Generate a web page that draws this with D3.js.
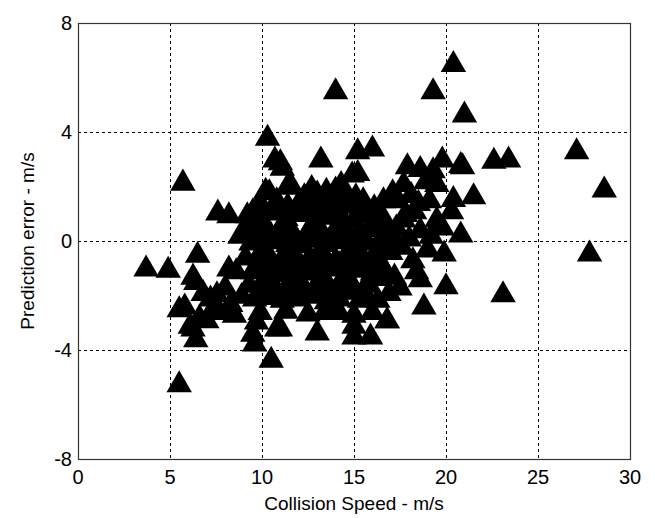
<!DOCTYPE html>
<html lang="en">
<head>
    <meta charset="UTF-8">
    <title>Prediction error vs collision speed</title>
    <script src="https://d3js.org/d3.v7.min.js"></script>
    <style>
        body { margin: 0; background: #fff; font-family: "Liberation Sans", Arial, sans-serif; }
        .grid line { stroke: #000; stroke-width: 1; stroke-dasharray: 3,3; }
        .tick-label { font-size: 20px; fill: #000; }
        .axis-label { font-size: 19px; fill: #000; }
    </style>
</head>
<body>
<div id="chart"></div>
<script>
    // Collision speed (m/s) and prediction error (m/s)
    const speed = [
        3.7, 4.9, 5.7, 5.5, 5.5, 5.8, 6.1, 6.25, 6.4, 6.25, 6.4, 6.5, 6.8, 7.2, 7.55, 7.7, 7.6, 8.2,
        7.0, 7.4, 8.0, 8.3, 8.6, 8.8, 8.5, 8.9, 8.2, 6.6,
        10.3, 10.7, 11.0, 13.2, 11.5, 14.0, 10.2, 10.8, 11.1, 12.4, 13.0, 13.5, 14.0, 9.5, 9.9, 10.4,
        11.8, 12.0, 12.8, 13.7, 14.5, 14.9, 15.2, 16.0, 15.2, 15.5, 16.2,
        9.2, 10.0, 10.6, 11.3, 12.1, 12.9, 13.6, 14.2, 15.0, 15.8, 16.6,
        9.0, 9.7, 10.3, 11.0, 11.6, 12.4, 13.1, 13.9, 14.6, 15.3, 16.1, 16.9,
        9.4, 10.1, 10.8, 11.4, 12.2, 12.8, 13.5, 14.3, 15.0, 15.7, 16.4, 17.1,
        9.1, 9.8, 10.5, 11.2, 11.9, 12.6, 13.3, 14.0, 14.8, 15.5, 16.2,
        9.5, 10.2, 10.9, 11.6, 12.3, 13.0, 13.7, 14.5, 15.2, 16.0, 16.7,
        9.3, 10.0, 10.7, 11.4, 12.1, 12.9, 13.6, 14.3, 15.0, 15.8,
        9.6, 10.4, 11.1, 12.0, 12.7, 13.5, 14.2, 15.5, 16.3,
        9.9, 11.3, 12.5, 13.4, 14.1, 15.0, 16.0,
        // second, staggered layer of the dense core
        9.9, 10.6, 11.4, 12.2, 12.9, 13.8, 14.6, 15.4, 16.1,
        9.6, 11.2, 12.8, 14.4, 16.0,
        9.8, 10.5, 11.1, 11.8, 12.5, 13.2, 14.0, 14.8, 15.6, 16.5,
        10.2, 11.7, 13.2, 14.7, 16.2,
        9.7, 10.5, 11.3, 12.0, 12.7, 13.4, 14.2, 14.9, 15.7, 16.5,
        10.1, 11.8, 13.3, 14.7, 16.2,
        10.0, 10.8, 11.6, 12.4, 13.1, 13.9, 14.7, 15.5,
        12.3, 13.0, 13.8, 14.5, 15.1, 11.5, 12.7, 14.3,
        17.4, 17.7, 17.9, 18.6, 19.3, 19.8, 20.8, 20.9, 21.5, 20.4, 19.1, 19.5, 18.6, 19.8, 17.7, 16.7,
        20.8, 19.9, 18.2, 18.4, 20.0, 18.8, 16.8, 18.6, 17.2, 17.0, 17.6, 18.0, 19.0, 18.3, 17.1, 19.5,
        20.3, 17.5, 16.9, 18.1, 18.9, 17.3, 19.2, 18.5, 17.8, 16.6,
        22.6, 23.4, 27.1, 28.6, 27.8, 23.1, 20.4, 19.3, 21.0,
        10.5, 13.0, 15.0, 15.0, 15.9, 9.7, 10.8, 15.5, 14.1, 15.3, 9.5, 9.6, 11.0, 16.8
    ];
    const error = [
        -0.9, -0.95, 2.25, -5.15, -2.4, -2.3, -3.0, -3.1, -3.5, -1.2, -1.4, -0.4, -1.8, -2.0, -1.85, -2.5, 1.15, 1.05,
        -2.8, -2.3, -1.6, -2.2, -1.0, 0.3, -2.6, -1.9, -0.9, -2.7,
        3.9, 3.1, 3.0, 3.1, 2.25, 5.6, 1.95, 1.6, 2.8, 1.7, 1.85, 1.95, 2.0, 1.2, 1.5, 1.9,
        1.2, 1.5, 1.3, 1.5, 1.8, 2.55, 3.4, 3.5, 2.6, 1.6, 1.2,
        1.05, 0.9, 1.15, 0.95, 1.1, 0.85, 1.0, 1.15, 0.9, 1.05, 0.95,
        0.45, 0.6, 0.4, 0.55, 0.5, 0.35, 0.6, 0.45, 0.5, 0.4, 0.55, 0.5,
        0.05, -0.1, 0.1, 0.0, -0.05, 0.15, 0.0, 0.1, -0.1, 0.05, -0.05, 0.1,
        -0.5, -0.45, -0.6, -0.4, -0.55, -0.5, -0.35, -0.6, -0.45, -0.5, -0.4,
        -1.0, -0.9, -1.1, -0.95, -1.05, -1.0, -0.9, -1.1, -0.95, -1.05, -1.0,
        -1.5, -1.45, -1.6, -1.5, -1.4, -1.55, -1.5, -1.45, -1.6, -1.5,
        -2.0, -1.95, -2.05, -2.0, -1.9, -2.1, -2.0, -1.95, -2.05,
        -2.5, -2.45, -2.55, -2.5, -2.4, -2.6, -2.5,
        1.35, 1.3, 1.4, 1.25, 1.45, 1.3, 1.4, 1.3, 1.35,
        0.75, 0.7, 0.8, 0.7, 0.75,
        0.25, 0.3, 0.2, 0.25, 0.3, 0.2, 0.25, 0.3, 0.2, 0.25,
        -0.25, -0.3, -0.2, -0.25, -0.3,
        -0.75, -0.7, -0.8, -0.75, -0.7, -0.8, -0.75, -0.7, -0.8, -0.75,
        -1.3, -1.25, -1.2, -1.3, -1.25,
        -1.75, -1.7, -1.8, -1.75, -1.7, -1.8, -1.75, -1.7,
        1.75, 1.8, 1.7, 1.8, 1.75, 2.1, 2.05, 2.2,
        1.6, 2.2, 2.85, 2.75, 2.7, 3.1, 2.9, 2.85, 1.75, 1.65, 1.6, 0.9, 0.5, 0.6, 0.9, 0.4,
        0.35, -0.35, -0.6, -1.0, -1.55, -2.3, -2.8, -1.3, -1.2, -0.3, -0.1, 0.2, -0.2, 1.2, 1.9, 2.2,
        1.2, -1.6, -1.8, 1.8, 2.3, 0.6, 0.3, 1.5, 1.1, 1.6,
        3.05, 3.1, 3.4, 2.0, -0.35, -1.85, 6.6, 5.6, 4.75,
        -4.25, -3.25, -3.0, -3.4, -3.4, -2.85, -3.1, -2.0, -2.5, -2.05, -3.3, -3.65, -3.1, -2.8
    ];
    const xTicks = [0, 5, 10, 15, 20, 25, 30];
    const yTicks = [-8, -4, 0, 4, 8];

    const W = 655, H = 518;
    const margin = {top: 23, right: 25, bottom: 59, left: 78};
    const width = W - margin.left - margin.right;
    const height = H - margin.top - margin.bottom;

    const svg = d3.select("#chart").append("svg")
        .attr("width", W)
        .attr("height", H);

    const g = svg.append("g")
        .attr("transform", `translate(${margin.left},${margin.top})`);

    const x = d3.scaleLinear().domain([0, 30]).range([0, width]);
    const y = d3.scaleLinear().domain([-8, 8]).range([height, 0]);

    // dotted grid
    const grid = g.append("g").attr("class", "grid");
    grid.selectAll(".gx")
        .data(xTicks.slice(1, -1))
        .enter().append("line")
        .attr("x1", d => Math.round(x(d)) + 0.5).attr("x2", d => Math.round(x(d)) + 0.5)
        .attr("y1", 0).attr("y2", height);
    grid.selectAll(".gy")
        .data(yTicks.slice(1, -1))
        .enter().append("line")
        .attr("y1", d => Math.round(y(d)) + 0.5).attr("y2", d => Math.round(y(d)) + 0.5)
        .attr("x1", 0).attr("x2", width);

    // triangles
    const tri = d3.symbol().type(d3.symbolTriangle).size(280);
    const pts = speed.map((s, i) => ({s: s, e: error[i]}));
    g.selectAll(".pt")
        .data(pts)
        .enter().append("path")
        .attr("class", "pt")
        .attr("d", tri)
        .attr("transform", d => `translate(${x(d.s)},${y(d.e) + 3.6})`)
        .attr("fill", "#000");

    // box
    g.append("rect")
        .attr("x", 0.5).attr("y", 0.5)
        .attr("width", width).attr("height", height)
        .attr("fill", "none")
        .attr("stroke", "#333")
        .attr("stroke-width", 1.2);

    // tick labels
    g.selectAll(".xt")
        .data(xTicks)
        .enter().append("text")
        .attr("class", "tick-label")
        .attr("x", d => x(d))
        .attr("y", height + 25)
        .attr("text-anchor", "middle")
        .text(d => d);

    g.selectAll(".yt")
        .data(yTicks)
        .enter().append("text")
        .attr("class", "tick-label")
        .attr("x", -6)
        .attr("y", d => y(d))
        .attr("dy", "0.36em")
        .attr("text-anchor", "end")
        .text(d => d);

    // axis labels
    svg.append("text")
        .attr("class", "axis-label")
        .attr("x", margin.left + width / 2)
        .attr("y", 510)
        .attr("text-anchor", "middle")
        .text("Collision Speed - m/s");

    svg.append("text")
        .attr("class", "axis-label")
        .attr("transform", `translate(34,${margin.top + height / 2}) rotate(-90)`)
        .attr("text-anchor", "middle")
        .text("Prediction error - m/s");
</script>
</body>
</html>
